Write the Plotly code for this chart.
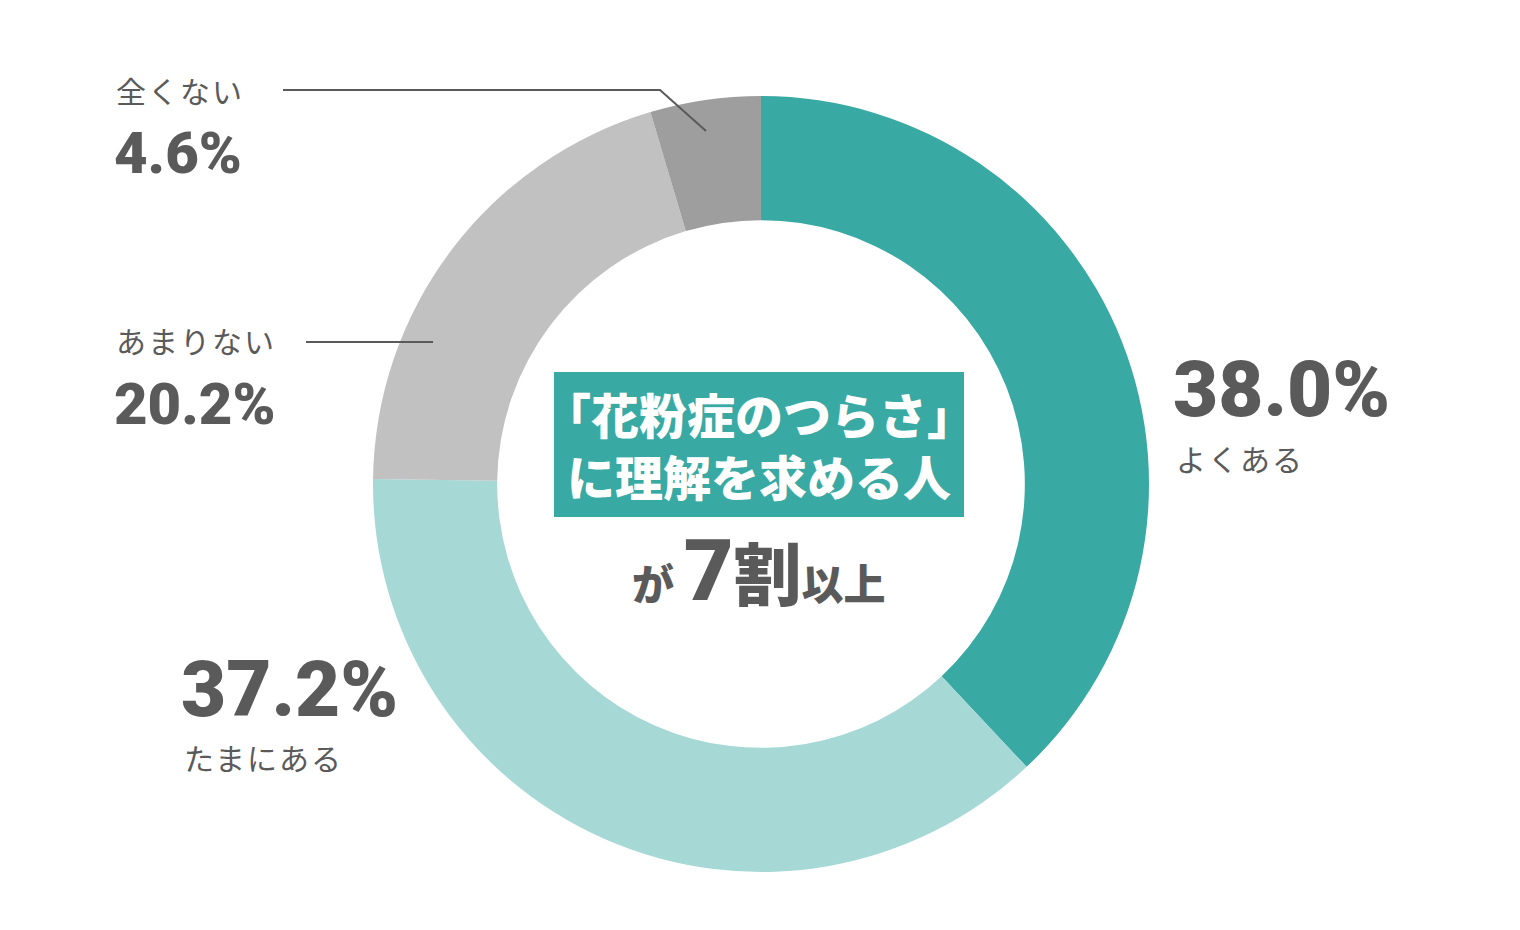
import plotly.graph_objects as go

labels = ["よくある", "たまにある", "あまりない", "全くない"]
values = [38.0, 37.2, 20.2, 4.6]
colors = ["#38A9A3", "#A6D8D6", "#C1C1C1", "#9E9E9E"]

W, H = 1520, 930
TXT = "#5a5a5a"
JP = "Noto Sans CJK JP"
NUM = "Roboto"

fig = go.Figure()
fig.add_trace(go.Pie(
    labels=labels, values=values, sort=False, direction="clockwise", rotation=0,
    hole=0.68, marker=dict(colors=colors, line=dict(width=0)),
    textinfo="none", hoverinfo="label+percent", showlegend=False,
    domain=dict(x=[373 / W, 1149 / W], y=[1 - 872 / H, 1 - 96 / H]),
))

fig.update_xaxes(range=[0, W], visible=False, fixedrange=True)
fig.update_yaxes(range=[H, 0], visible=False, fixedrange=True)

def num(x, y, v, size):
    fig.add_annotation(x=x, y=y, xref="x", yref="y", text=f"{v:.1f}%", showarrow=False,
                       xanchor="left", yanchor="middle",
                       font=dict(family=NUM, size=size, color=TXT, weight=900))

def lab(x, y, t, size=30):
    fig.add_annotation(x=x, y=y, xref="x", yref="y",
                       text=f"<span style='letter-spacing:2px'>{t}</span>", showarrow=False,
                       xanchor="left", yanchor="middle",
                       font=dict(family=JP, size=size, color=TXT))

num(1171, 389, values[0], 78)
lab(1174, 458, labels[0])
num(179, 689, values[1], 78)
lab(182, 757, labels[1])
num(112, 404, values[2], 58)
lab(114, 340, labels[2])
num(112, 153, values[3], 58)
lab(114, 90, labels[3])

fig.add_shape(type="path", path="M 283 90 L 660 90 L 706 131", xref="x", yref="y",
              line=dict(color=TXT, width=2))
fig.add_shape(type="line", x0=306, y0=342, x1=433, y1=342, xref="x", yref="y",
              line=dict(color=TXT, width=2))

fig.add_shape(type="rect", x0=554, y0=372, x1=964, y1=517, xref="x", yref="y",
              fillcolor="#38A9A3", line=dict(width=0), layer="below")
fig.add_annotation(x=759, y=444, xref="x", yref="y",
                   text="「花粉症のつらさ」<br>に理解を求める人", showarrow=False,
                   xanchor="center", yanchor="middle", align="center",
                   font=dict(family=JP, size=48, color="white", weight=900))
fig.add_annotation(x=759, y=570, xref="x", yref="y",
                   text="<span style='font-size:42px'>が </span>"
                        "<span style='font-family:Roboto;font-size:86px'>7</span>"
                        "<span style='font-size:68px'>割</span>"
                        "<span style='font-size:42px'>以上</span>",
                   showarrow=False, xanchor="center", yanchor="middle",
                   font=dict(family=JP, size=42, color=TXT, weight=900))

fig.update_layout(width=W, height=H, margin=dict(l=0, r=0, t=0, b=0),
                  paper_bgcolor="white", plot_bgcolor="white")
fig.write_html("out.html")
